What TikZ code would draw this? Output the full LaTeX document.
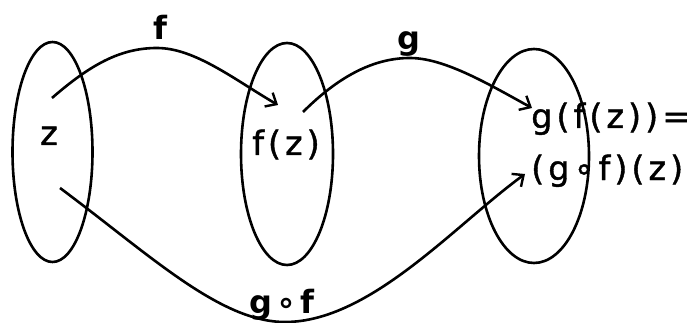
\documentclass[tikz,border=0pt]{standalone}
\usepackage{fontspec}
\setmainfont{DejaVu Sans}[LetterSpace=12]
\newfontfamily\elemfont{DejaVu Sans}[LetterSpace=12,FakeBold=1.2]
\usetikzlibrary{arrows.meta}
\begin{document}
\begin{tikzpicture}[x=1pt,y=-1pt,
  setshape/.style={draw,line width=2.6pt},
  maparrow/.style={draw,line width=2.6pt,-{Straight Barb[length=9pt,width=16pt,line width=2.4pt]}},
  elemtext/.style={font=\elemfont\fontsize{33.5}{38}\selectfont,inner sep=0pt},
  maplabel/.style={font=\fontsize{32}{36}\selectfont\bfseries,inner sep=0pt}]
\useasboundingbox (0,0) rectangle (695,323);
% sets
\draw[setshape] (52.5,152) ellipse [x radius=40, y radius=110];
\draw[setshape] (287,154) ellipse [x radius=46, y radius=111];
\draw[setshape] (534,156) ellipse [x radius=55, y radius=107];
% elements
\node[elemtext,anchor=base] (z) at (49,145) {z};
\node[elemtext,anchor=base] (fz) at (286,155) {f(z)};
\node[elemtext,anchor=base west] (gfz) at (531,128) {g(f(z))=};
\node[elemtext,anchor=base west] (gofz) at (531,180) {(g∘f)(z)};
% arrow endpoints
\coordinate (fs) at (52,98);
\coordinate (fe) at (278,105);
\coordinate (gs) at (303,112);
\coordinate (ge) at (532,108);
\coordinate (hs) at (60,188);
\coordinate (he) at (525,174);
% arrows
\draw[maparrow] (fs) .. controls (90,65) and (120,48) .. (157,48) .. controls (195,48) and (235,80) .. (fe);
\draw[maparrow] (gs) .. controls (340,75) and (375,58) .. (410,58) .. controls (445,58) and (490,85) .. (ge);
\draw[maparrow] (hs) .. controls (150,255) and (220,322) .. (285,322) .. controls (370,322) and (455,225) .. (he);
% labels
\node[maplabel,anchor=base] (lf) at (160,40) {f};
\node[maplabel,anchor=base] (lg) at (409,50) {g};
\node[maplabel,anchor=base] (lgf) at (282,313) {g∘f};
\end{tikzpicture}
\end{document}
